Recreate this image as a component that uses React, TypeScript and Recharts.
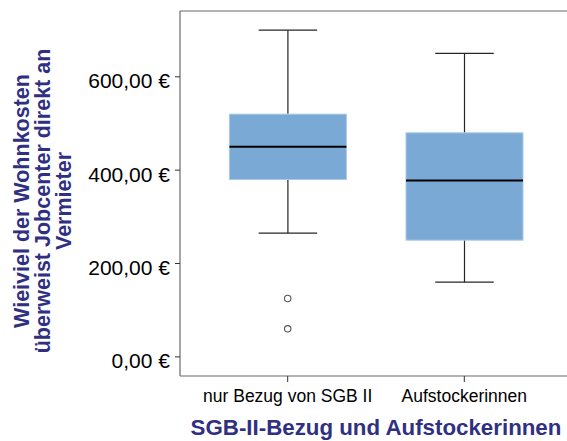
import React from 'react'
import { Bar, ComposedChart, Label, ReferenceLine, Scatter, XAxis, YAxis } from 'recharts'

const groups = ['nur Bezug von SGB II', 'Aufstockerinnen']
const whiskerLow = [265, 160]
const quartile1 = [380, 250]
const medians = [450, 378]
const quartile3 = [520, 480]
const whiskerHigh = [700, 650]

const outlierGroups = ['nur Bezug von SGB II', 'nur Bezug von SGB II']
const outlierValues = [125, 60]

const yTicks = [0, 200, 400, 600]
const yDomain = [-41, 741]

const xTitle = 'SGB-II-Bezug und Aufstockerinnen'
const yTitle = ['Wieiviel der Wohnkosten', 'überweist Jobcenter direkt an', 'Vermieter']

const FONT = '"Liberation Sans", Arial, sans-serif'
const TITLE_COLOR = '#2f3082'
const AXIS_COLOR = '#6b6b6b'

const data = groups.map((cat, i) => ({
  cat,
  range: [whiskerLow[i], whiskerHigh[i]],
  min: whiskerLow[i],
  q1: quartile1[i],
  median: medians[i],
  q3: quartile3[i],
  max: whiskerHigh[i],
}))

const outliers = outlierValues.map((value, i) => ({ cat: outlierGroups[i], value }))

const euro = (v: number) => `${v.toFixed(2).replace('.', ',')} €`

// the bar spans min..max, so box and median are placed on the same linear scale
function BoxShape(props: any) {
  const { x, y, width, height, payload } = props
  const { min, q1, median, q3, max } = payload
  const k = height / (max - min)
  const at = (v: number) => y + (max - v) * k
  const cx = x + width / 2
  const cap = width / 4
  return (
    <g>
      <line x1={cx} x2={cx} y1={at(max)} y2={at(q3)} stroke="#262626" strokeWidth={1.2} />
      <line x1={cx} x2={cx} y1={at(q1)} y2={at(min)} stroke="#262626" strokeWidth={1.2} />
      <line x1={cx - cap} x2={cx + cap} y1={at(max)} y2={at(max)} stroke="#262626" strokeWidth={1.2} />
      <line x1={cx - cap} x2={cx + cap} y1={at(min)} y2={at(min)} stroke="#262626" strokeWidth={1.2} />
      <rect x={x} y={at(q3)} width={width} height={at(q1) - at(q3)} fill="#7aa9d5" stroke="#a9c9e8" strokeWidth={1} />
      <line x1={x} x2={x + width} y1={at(median)} y2={at(median)} stroke="#000" strokeWidth={2} />
    </g>
  )
}

function Outlier(props: any) {
  return <circle cx={props.cx} cy={props.cy} r={3.2} fill="#fff" stroke="#555" strokeWidth={1.1} />
}

function YTick(props: any) {
  const { x, y, payload } = props
  return (
    <text x={x} y={y + 4} textAnchor="end" dominantBaseline="central" fontSize={21} fill="#000" fontFamily={FONT}>
      {euro(payload.value)}
    </text>
  )
}

function XTick(props: any) {
  const { x, y, payload } = props
  return (
    <text x={x} y={y + 19.5} textAnchor="middle" fontSize={17.5} fill="#000" fontFamily={FONT}>
      {payload.value}
    </text>
  )
}

function YTitle() {
  return (
    <text
      transform="translate(29, 201) rotate(-90)"
      textAnchor="middle"
      fontSize={21.5}
      fontWeight="bold"
      fill={TITLE_COLOR}
      fontFamily={FONT}
    >
      {yTitle.map((line, i) => (
        <tspan key={i} x={0} dy={i === 0 ? 0 : 21}>
          {line}
        </tspan>
      ))}
    </text>
  )
}

export default function App() {
  return (
    <div style={{ position: 'absolute', left: 0, top: 0, width: 567, height: 441, overflow: 'hidden', background: '#fff' }}>
      <ComposedChart width={580} height={441} data={data} margin={{ top: 11, right: 8, bottom: 0, left: 0 }}>
        <XAxis
          dataKey="cat"
          allowDuplicatedCategory={false}
          padding={{ left: 19.4, right: 19.4 }}
          height={65}
          tickSize={6}
          tickMargin={0}
          tick={<XTick />}
          axisLine={{ stroke: AXIS_COLOR, strokeWidth: 1.2 }}
          tickLine={{ stroke: '#333' }}
        >
          <Label value={xTitle} position="insideBottom" offset={6} fontSize={22.3} fontWeight="bold" fill={TITLE_COLOR} fontFamily={FONT} />
        </XAxis>
        <YAxis
          type="number"
          domain={yDomain}
          ticks={yTicks}
          width={180}
          tickSize={5}
          tickMargin={5}
          tick={<YTick />}
          axisLine={{ stroke: AXIS_COLOR, strokeWidth: 1.2 }}
          tickLine={{ stroke: '#333' }}
          allowDataOverflow
        >
          <Label content={<YTitle />} />
        </YAxis>
        <ReferenceLine y={yDomain[1]} stroke={AXIS_COLOR} strokeWidth={1.2} />
        <Bar dataKey="range" barSize={117} shape={<BoxShape />} isAnimationActive={false} />
        <Scatter data={outliers} dataKey="value" shape={<Outlier />} isAnimationActive={false} />
      </ComposedChart>
    </div>
  )
}
